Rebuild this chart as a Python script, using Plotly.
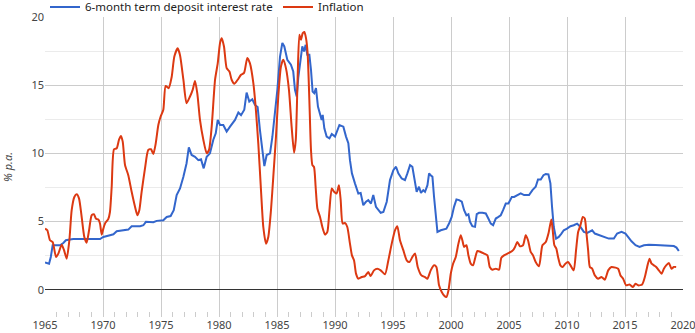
import plotly.graph_objects as go

# ---- data ----
deposit_years = [1965.0, 1965.1, 1965.35, 1965.5, 1965.66, 1965.86, 1966.3, 1966.58, 1966.8, 1967.15,
    1967.44, 1969.74, 1970.03, 1970.6, 1970.9, 1971.18, 1971.75, 1972.18, 1972.47, 1973.2,
    1973.48, 1973.7, 1974.34, 1974.63, 1975.2, 1975.49, 1975.83, 1976.1, 1976.35, 1976.64,
    1976.93, 1977.2, 1977.4, 1977.64, 1977.93, 1978.22, 1978.45, 1978.68, 1978.94, 1979.22,
    1979.51, 1979.72, 1979.89, 1980.09, 1980.37, 1980.66, 1980.95, 1981.38, 1981.67, 1981.9,
    1982.18, 1982.38, 1982.61, 1982.87, 1983.1, 1983.33, 1983.53, 1983.74, 1983.91, 1984.11,
    1984.4, 1984.6, 1984.83, 1985.03, 1985.26, 1985.46, 1985.63, 1985.89, 1986.2, 1986.4,
    1986.55, 1986.7, 1986.84, 1987.04, 1987.18, 1987.33, 1987.47, 1987.61, 1987.79, 1987.93,
    1988.07, 1988.21, 1988.36, 1988.53, 1988.71, 1988.85, 1988.94, 1989.08, 1989.28, 1989.52,
    1989.72, 1990.0, 1990.38, 1990.72, 1990.95, 1991.15, 1991.29, 1991.46, 1991.72, 1992.01,
    1992.21, 1992.44, 1992.67, 1992.87, 1993.1, 1993.3, 1993.53, 1993.73, 1993.94, 1994.17,
    1994.46, 1994.74, 1995.03, 1995.26, 1995.46, 1995.75, 1996.03, 1996.24, 1996.47, 1996.67,
    1996.84, 1997.04, 1997.24, 1997.41, 1997.61, 1997.76, 1997.97, 1998.11, 1998.25, 1998.4,
    1998.54, 1998.68, 1998.83, 1999.12, 1999.4, 1999.6, 1999.83, 2000.06, 2000.26, 2000.47,
    2000.7, 2000.93, 2001.13, 2001.33, 2001.5, 2001.64, 2001.84, 2002.07, 2002.22, 2002.42,
    2002.71, 2003.0, 2003.22, 2003.43, 2003.63, 2003.86, 2004.09, 2004.29, 2004.49, 2004.72,
    2004.95, 2005.24, 2005.44, 2005.72, 2006.01, 2006.3, 2006.73, 2007.02, 2007.3, 2007.5,
    2007.74, 2007.97, 2008.17, 2008.4, 2008.57, 2008.71, 2008.86, 2009.06, 2009.29, 2009.52,
    2009.72, 2010.0, 2010.3, 2010.58, 2010.87, 2011.16, 2011.45, 2011.74, 2011.94, 2012.17,
    2012.4, 2012.74, 2013.17, 2013.6, 2014.04, 2014.32, 2014.7, 2015.04, 2015.33, 2015.56,
    2015.91, 2016.25, 2016.63, 2017.06, 2017.63, 2018.2, 2018.78, 2019.21, 2019.44, 2019.64]
deposit_rate = [2.0, 1.98, 1.9, 2.4, 3.26, 3.26, 3.26, 3.43, 3.63, 3.68,
    3.72, 3.72, 3.87, 4.0, 4.07, 4.29, 4.36, 4.41, 4.66, 4.66,
    4.73, 4.98, 4.95, 5.05, 5.1, 5.34, 5.4, 5.83, 6.94, 7.43,
    8.28, 9.26, 10.44, 9.88, 9.75, 9.5, 9.56, 8.9, 9.75, 10.0,
    11.0, 11.47, 12.45, 12.08, 12.08, 11.6, 11.96, 12.45, 13.0, 12.8,
    13.2, 14.46, 13.8, 13.97, 13.55, 13.4, 11.7, 10.0, 9.07, 9.88,
    10.0, 11.2, 12.9, 14.66, 17.1, 18.1, 17.84, 16.86, 16.5, 16.0,
    14.66, 14.17, 15.6, 17.1, 17.84, 17.47, 17.96, 17.23, 17.23, 16.13,
    14.53, 14.41, 14.78, 13.43, 12.94, 12.45, 12.82, 11.84, 11.23, 11.1,
    11.42, 11.23, 12.08, 11.96, 11.23, 10.74, 9.5, 8.53, 7.8, 7.06,
    7.1, 6.2, 6.45, 6.57, 6.32, 6.94, 6.08, 5.83, 5.64, 5.7,
    6.45, 8.04, 8.77, 9.02, 8.53, 8.16, 8.04, 8.53, 9.14, 9.02,
    8.0, 7.18, 7.55, 7.1, 7.3, 7.18, 7.67, 8.53, 8.4, 8.28,
    6.8, 5.34, 4.24, 4.36, 4.41, 4.48, 4.85, 5.34, 6.08, 6.62,
    6.57, 6.45, 5.83, 5.46, 5.54, 4.98, 4.66, 4.61, 5.54, 5.64,
    5.64, 5.59, 5.22, 4.85, 4.73, 5.22, 5.34, 5.46, 5.83, 6.32,
    6.32, 6.8, 6.8, 6.94, 7.06, 6.94, 6.94, 7.3, 7.55, 8.09,
    8.09, 8.4, 8.48, 8.45, 7.8, 6.08, 4.6, 3.75, 3.87, 4.12,
    4.36, 4.48, 4.66, 4.73, 4.85, 4.6, 4.24, 4.17, 4.24, 4.36,
    4.12, 4.0, 3.87, 3.75, 3.75, 4.12, 4.24, 4.12, 3.8, 3.55,
    3.26, 3.14, 3.26, 3.3, 3.28, 3.26, 3.26, 3.2, 3.09, 2.84]

inflation_years = [1965.0, 1965.2, 1965.43, 1965.66, 1965.95, 1966.15, 1966.44, 1966.64, 1966.87, 1967.1,
    1967.3, 1967.53, 1967.73, 1967.93, 1968.16, 1968.39, 1968.59, 1968.8, 1969.02, 1969.22,
    1969.4, 1969.6, 1969.74, 1969.89, 1970.03, 1970.2, 1970.46, 1970.6, 1970.75, 1970.95,
    1971.18, 1971.38, 1971.55, 1971.7, 1971.9, 1972.18, 1972.47, 1972.76, 1972.96, 1973.13,
    1973.33, 1973.62, 1973.9, 1974.14, 1974.34, 1974.54, 1974.77, 1974.97, 1975.2, 1975.4,
    1975.66, 1975.92, 1976.15, 1976.44, 1976.64, 1976.93, 1977.2, 1977.5, 1977.73, 1977.93,
    1978.13, 1978.36, 1978.65, 1978.94, 1979.14, 1979.37, 1979.66, 1979.89, 1980.09, 1980.23,
    1980.43, 1980.66, 1980.9, 1981.09, 1981.32, 1981.61, 1981.9, 1982.16, 1982.44, 1982.67,
    1982.96, 1983.16, 1983.39, 1983.62, 1983.82, 1984.05, 1984.25, 1984.48, 1984.68, 1984.91,
    1985.11, 1985.34, 1985.54, 1985.77, 1986.03, 1986.26, 1986.47, 1986.62, 1986.78, 1986.93,
    1987.07, 1987.21, 1987.36, 1987.5, 1987.64, 1987.79, 1987.93, 1988.05, 1988.19, 1988.33,
    1988.48, 1988.71, 1988.91, 1989.14, 1989.34, 1989.52, 1989.72, 1989.92, 1990.14, 1990.34,
    1990.49, 1990.66, 1990.86, 1991.06, 1991.29, 1991.46, 1991.64, 1991.81, 1992.01, 1992.3,
    1992.59, 1992.87, 1993.07, 1993.36, 1993.65, 1993.94, 1994.31, 1994.6, 1994.89, 1995.17,
    1995.37, 1995.6, 1995.89, 1996.18, 1996.41, 1996.7, 1996.9, 1997.13, 1997.45, 1997.76,
    1997.97, 1998.25, 1998.54, 1998.74, 1998.97, 1999.2, 1999.4, 1999.6, 1999.78, 1999.98,
    2000.18, 2000.41, 2000.64, 2000.84, 2000.98, 2001.13, 2001.33, 2001.5, 2001.7, 2001.9,
    2002.07, 2002.28, 2002.56, 2002.85, 2003.14, 2003.34, 2003.57, 2003.86, 2004.14, 2004.34,
    2004.57, 2004.86, 2005.15, 2005.35, 2005.52, 2005.72, 2005.95, 2006.21, 2006.44, 2006.64,
    2006.87, 2007.07, 2007.3, 2007.59, 2007.88, 2008.17, 2008.4, 2008.65, 2008.77, 2008.91,
    2009.08, 2009.23, 2009.43, 2009.63, 2009.86, 2010.09, 2010.3, 2010.58, 2010.78, 2010.96,
    2011.16, 2011.36, 2011.53, 2011.68, 2011.82, 2011.97, 2012.17, 2012.4, 2012.68, 2012.97,
    2013.26, 2013.55, 2013.83, 2014.18, 2014.41, 2014.61, 2014.84, 2015.1, 2015.39, 2015.68,
    2015.91, 2016.14, 2016.48, 2016.71, 2016.91, 2017.11, 2017.29, 2017.49, 2017.69, 2017.92,
    2018.15, 2018.35, 2018.55, 2018.78, 2019.01, 2019.21, 2019.41]
inflation = [4.48, 4.36, 3.63, 3.5, 2.4, 2.65, 3.3, 2.9, 2.28, 3.63,
    5.83, 6.8, 7.0, 6.7, 5.34, 3.87, 3.45, 4.36, 5.46, 5.54,
    5.2, 5.15, 4.85, 4.04, 4.48, 4.9, 5.2, 5.7, 7.55, 10.3,
    10.37, 11.0, 11.27, 10.86, 9.14, 8.4, 7.18, 6.08, 5.46, 5.83,
    7.18, 8.9, 10.25, 10.3, 9.95, 10.7, 12.08, 12.7, 13.2, 14.95,
    14.78, 15.6, 17.1, 17.7, 17.2, 15.4, 13.68, 14.17, 14.66, 15.3,
    14.4, 12.45, 11.0, 10.0, 10.25, 11.96, 15.4, 16.6, 18.1, 18.45,
    17.84, 16.25, 16.0, 15.4, 15.1, 15.4, 15.76, 15.9, 17.0, 16.6,
    15.15, 13.4, 10.7, 7.3, 4.6, 3.38, 3.87, 5.83, 8.28, 11.2,
    14.17, 16.37, 16.86, 16.25, 14.66, 11.96, 10.05, 11.0, 15.6, 18.7,
    18.33, 18.8, 18.9, 18.45, 17.35, 13.9, 10.25, 9.14, 9.0, 7.55,
    5.96, 5.34, 4.6, 4.04, 4.24, 5.83, 7.43, 7.18, 7.06, 7.67,
    6.57, 4.85, 4.9, 4.6, 3.38, 2.52, 2.16, 1.18, 0.81, 0.93,
    1.0, 1.3, 1.0, 1.42, 1.54, 1.42, 1.13, 2.16, 3.38, 4.36,
    4.66, 3.63, 2.9, 2.16, 2.03, 2.45, 2.65, 1.67, 1.05, 0.93,
    0.81, 1.42, 1.79, 1.67, 0.32, -0.17, -0.42, -0.54, -0.05, 1.18,
    1.91, 2.4, 3.38, 4.0, 3.63, 3.14, 3.26, 2.52, 1.91, 1.79,
    2.28, 2.84, 2.77, 2.65, 2.52, 1.67, 1.47, 1.54, 1.47, 2.35,
    2.52, 2.65, 2.77, 2.9, 3.14, 3.5, 3.19, 3.26, 4.0, 3.63,
    2.77, 2.52, 2.03, 1.72, 3.26, 3.5, 4.12, 5.15, 4.36, 3.26,
    3.01, 2.4, 1.79, 1.67, 1.91, 2.03, 1.79, 1.42, 2.9, 4.24,
    4.73, 5.34, 5.22, 4.12, 2.9, 1.67, 1.54, 1.05, 0.81, 0.93,
    0.74, 1.42, 1.67, 1.62, 1.54, 1.05, 0.81, 0.32, 0.39, 0.2,
    0.44, 0.32, 0.39, 0.93, 1.67, 2.28, 1.91, 1.79, 1.67, 1.42,
    1.18, 1.54, 1.79, 1.96, 1.54, 1.67, 1.67]

x_tick_years = [1965, 1970, 1975, 1980, 1985, 1990, 1995, 2000, 2005, 2010, 2015, 2020]
y_tick_values = [0, 5, 10, 15, 20]

series_names = ["6-month term deposit interest rate", "Inflation"]
BLUE = "#3366CC"
RED = "#DC3912"
FONT = "Noto Sans"

fig = go.Figure()
fig.add_trace(go.Scatter(x=deposit_years, y=deposit_rate, mode="lines",
                         name=series_names[0], line=dict(color=BLUE, width=2)))
fig.add_trace(go.Scatter(x=inflation_years, y=inflation, mode="lines",
                         name=series_names[1],
                         line=dict(color=RED, width=2, shape="spline", smoothing=0.6)))

fig.update_layout(
    width=695, height=333,
    margin=dict(l=45, r=12, t=17, b=16, autoexpand=False),
    paper_bgcolor="white", plot_bgcolor="white",
    font=dict(family=FONT, size=11, color="#444444"),
    showlegend=True,
    legend=dict(orientation="h", x=0, xanchor="left", y=1.082, yanchor="top",
                font=dict(family=FONT, size=11.5, color="#222222"),
                entrywidth=188, entrywidthmode="pixels",
                itemwidth=30, bgcolor="rgba(0,0,0,0)",
                tracegroupgap=0, borderwidth=0),
    xaxis=dict(range=[1965, 2020], tickmode="array", tickvals=x_tick_years,
               ticktext=[str(v) for v in x_tick_years],
               showgrid=True, gridcolor="#cccccc", gridwidth=1,
               zeroline=False, showline=False,
               ticks="inside", ticklen=5, tickcolor="#cccccc",
               ticklabeloverflow="allow",
               minor=dict(dtick=1, tick0=1965, ticks="inside", ticklen=5,
                          tickcolor="#cccccc", showgrid=False),
               tickfont=dict(family=FONT, size=11, color="#444444"),
               fixedrange=True),
    yaxis=dict(range=[-2, 20], tickmode="array", tickvals=y_tick_values,
               showgrid=True, gridcolor="#cccccc", gridwidth=1,
               zeroline=True, zerolinecolor="#333333", zerolinewidth=1,
               showline=False, ticks="",
               minor=dict(tickvals=[2.5, 7.5, 12.5, 17.5], showgrid=True,
                          gridcolor="#ebebeb", gridwidth=1, ticks=""),
               tickfont=dict(family=FONT, size=11, color="#444444"),
               title=dict(text="<i>% p.a.</i>", font=dict(family=FONT, size=11, color="#444444"),
                          standoff=16),
               fixedrange=True),
)

fig.write_html("out.html")
